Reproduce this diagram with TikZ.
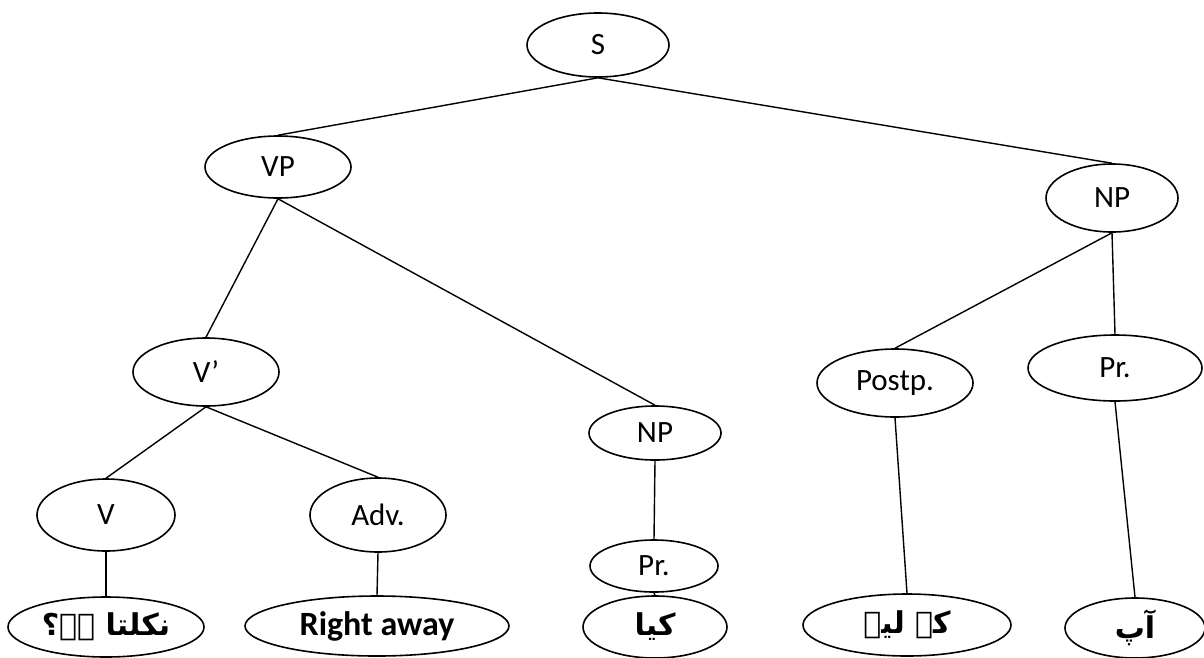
\documentclass[tikz,border=0pt]{standalone}
\usepackage{fontspec}
\setmainfont{Carlito}
\newfontfamily\urdufont[Script=Arabic]{DejaVu Sans}
\TeXXeTstate=1
\usetikzlibrary{shapes.geometric}
\begin{document}
\begin{tikzpicture}[x=1pt,y=-1pt,
  tnode/.style={draw,ellipse,line width=1.6pt,inner sep=0pt,
    font=\fontsize{31}{36}\selectfont},
  leaf/.style={tnode,font=\fontsize{34}{40}\selectfont\bfseries},
  urdu/.style={leaf,font=\urdufont\fontsize{30}{36}\selectfont\bfseries},
  branch/.style={line width=1.4pt}]
\useasboundingbox (0,0) rectangle (1204,657);
% phrase-level nodes
\node[tnode,minimum width=142pt,minimum height=64pt] (S) at (598,45) {S};
\node[tnode,minimum width=146pt,minimum height=62pt] (VP) at (278,167) {VP};
\node[tnode,minimum width=132pt,minimum height=68pt] (NPr) at (1112,198) {\raisebox{-4pt}{NP}};
\node[tnode,minimum width=146pt,minimum height=68pt] (Vbar) at (206,372) {V’};
\node[tnode,minimum width=132pt,minimum height=54pt] (NPm) at (655,433) {\raisebox{-5pt}{NP}};
\node[tnode,minimum width=156pt,minimum height=68pt] (Postp) at (895,383) {Postp.};
\node[tnode,minimum width=174pt,minimum height=66pt] (Prr) at (1115,368) {\raisebox{-3pt}{Pr.}};
\node[tnode,minimum width=138pt,minimum height=72pt] (V) at (106,515) {V};
\node[tnode,minimum width=136pt,minimum height=74pt] (Adv) at (378,515) {\raisebox{-6pt}{Adv.}};
\node[tnode,minimum width=128pt,minimum height=52pt] (Prm) at (654,566) {\raisebox{-6pt}{Pr.}};
% words
\node[urdu,minimum width=196pt,minimum height=60pt] (w1) at (106,627) {\beginR نکلتا ہے؟\endR};
\node[leaf,minimum width=264pt,minimum height=60pt] (w2) at (377,626) {Right away};
\node[urdu,minimum width=144pt,minimum height=62pt] (w3) at (655,627) {\beginR کیا\endR};
\node[urdu,minimum width=208pt,minimum height=62pt] (w4) at (907,625) {\beginR کے لیے\endR};
\node[urdu,minimum width=140pt,minimum height=60pt] (w5) at (1135,628) {\beginR آپ\endR};
% branches
\draw[branch] (S.south) -- (VP.north);
\draw[branch] (S.south) -- (NPr.north);
\draw[branch] (VP.south) -- (Vbar.north);
\draw[branch] (VP.south) -- (NPm.north);
\draw[branch] (Vbar.south) -- (V.north);
\draw[branch] (Vbar.south) -- (Adv.north);
\draw[branch] (NPm.south) -- (Prm.north);
\draw[branch] (NPr.south) -- (Postp.north);
\draw[branch] (NPr.south) -- (Prr.north);
\draw[branch] (V.south) -- (w1.north);
\draw[branch] (Adv.south) -- (w2.north);
\draw[branch] (Prm.south) -- (w3.north);
\draw[branch] (Postp.south) -- (w4.north);
\draw[branch] (Prr.south) -- (w5.north);
\end{tikzpicture}
\end{document}
